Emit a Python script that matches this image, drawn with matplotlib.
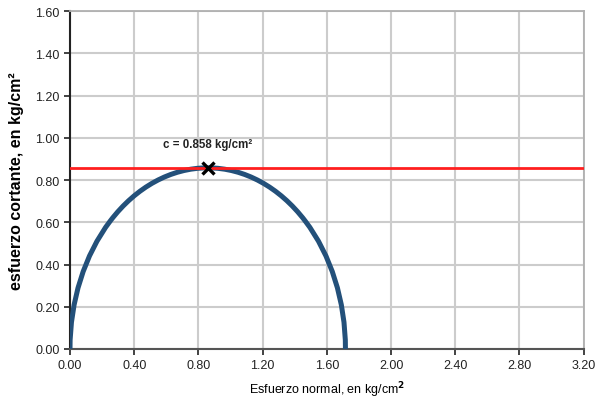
import matplotlib.pyplot as plt
from matplotlib.patches import Arc

plt.rcParams['font.family'] = ['Liberation Sans', 'DejaVu Sans']

# datos del círculo de Mohr (ensayo de compresión no confinada)
sigma_1 = 1.716        # esfuerzo principal mayor, kg/cm2
sigma_3 = 0.0          # esfuerzo principal menor, kg/cm2
c = 0.858              # cohesión, kg/cm2
c_label = 'c = 0.858 kg/cm²'

x_ticks = [0.0, 0.4, 0.8, 1.2, 1.6, 2.0, 2.4, 2.8, 3.2]
y_ticks = [0.0, 0.2, 0.4, 0.6, 0.8, 1.0, 1.2, 1.4, 1.6]

fig = plt.figure(figsize=(6.05, 4.06), dpi=100)
ax = fig.add_axes([0.1157, 0.138, 0.849, 0.832])

centro = (sigma_1 + sigma_3) / 2
diam = sigma_1 - sigma_3
circ = Arc((centro, 0), diam, diam, theta1=0, theta2=180,
           color='#23507a', lw=3.6, zorder=3)
ax.add_patch(circ)

ax.axhline(c, color='#ff1f1f', lw=2.0, zorder=4)
ax.plot([centro], [c], marker='x', color='black', ms=9, mew=2.4, zorder=5)
ax.annotate(c_label, (centro, c), xytext=(0, 13), textcoords='offset points',
            ha='center', va='bottom', fontsize=8.3, fontweight='bold',
            color='#222222')

ax.set_xlim(0, 3.2)
ax.set_ylim(0, 1.6)
ax.set_xticks(x_ticks)
ax.set_yticks(y_ticks)
ax.set_xticklabels(['%.2f' % v for v in x_ticks])
ax.set_yticklabels(['%.2f' % v for v in y_ticks])
ax.tick_params(labelsize=9, colors='#222222', length=4, width=1.2, direction='out')
ax.grid(True, color='#cccccc', lw=1.5)
ax.set_axisbelow(True)

for s in ['top', 'right']:
    ax.spines[s].set_color('#b0b0b0')
    ax.spines[s].set_linewidth(1.3)
ax.spines['left'].set_color('#222222')
ax.spines['bottom'].set_color('#555555')
ax.spines['left'].set_linewidth(1.5)
ax.spines['bottom'].set_linewidth(1.5)

ax.set_xlabel('Esfuerzo normal, en kg/cm$^{\\mathbf{2}}$', fontsize=9, labelpad=6)
ax.set_ylabel('esfuerzo cortante, en kg/cm²', fontsize=11.5, fontweight='bold', labelpad=8)

fig.savefig('out.png', dpi=100)
